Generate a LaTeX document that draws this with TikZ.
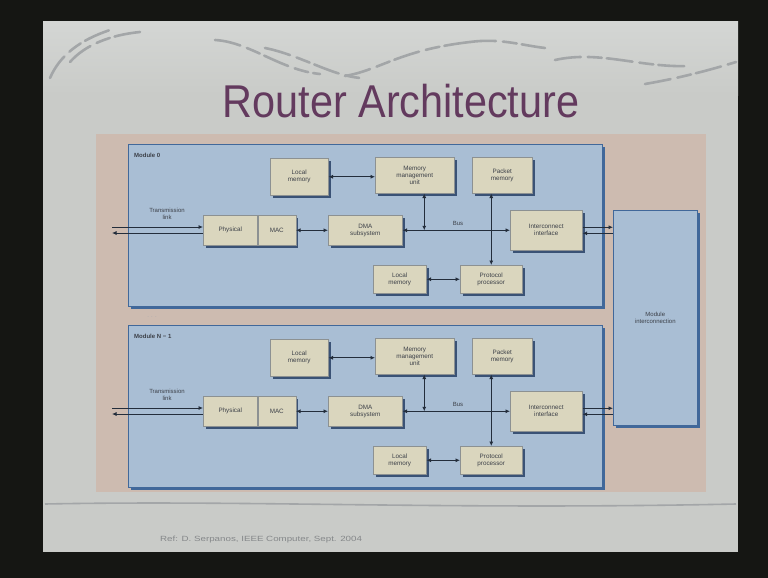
\documentclass[tikz,border=0pt]{standalone}
\usepackage{fontspec}
\setmainfont{Liberation Sans}
\usetikzlibrary{arrows.meta,shadows}

\definecolor{frameblack}{HTML}{151613}
\definecolor{slidegrey}{HTML}{C9CBC8}
\definecolor{bandgrey}{HTML}{D4D6D4}
\definecolor{swirl}{HTML}{A3A6A8}
\definecolor{beige}{HTML}{CDBBB0}
\definecolor{modfill}{HTML}{A9BED4}
\definecolor{modedge}{HTML}{41689A}
\definecolor{blockfill}{HTML}{DAD6BE}
\definecolor{blockedge}{HTML}{8C9192}
\definecolor{blockshade}{HTML}{3A5275}
\definecolor{wire}{HTML}{232D3B}
\definecolor{titlepurple}{HTML}{633A5E}
\definecolor{labelgrey}{HTML}{3C4048}
\definecolor{footergrey}{HTML}{85888A}

\tikzset{
  x=1pt, y=-1pt,
  >={Latex[length=4.5pt,width=4pt]},
  block/.style={draw=blockedge, line width=0.5pt, fill=blockfill, align=center,
    font=\fontsize{6.3}{7}\selectfont, text=labelgrey, inner sep=1pt, anchor=north west,
    drop shadow={shadow xshift=2.5pt, shadow yshift=-2.5pt, fill=blockshade, opacity=1}},
  modframe/.style={draw=modedge, line width=0.6pt, fill=modfill, anchor=north west,
    inner sep=0pt,
    drop shadow={shadow xshift=2.5pt, shadow yshift=-2.5pt, fill=modedge, opacity=1}},
  wire/.style={draw=wire, line width=0.8pt},
  smalltext/.style={font=\fontsize{6}{7.5}\selectfont, text=labelgrey, align=center, inner sep=0pt},
  swirlstroke/.style={draw=swirl, line width=2.6pt, line cap=round,
    dash pattern=on 26pt off 7pt on 14pt off 5pt}
}

% one router module: #1 vertical shift, #2 name prefix, #3 heading
\newcommand\routermodule[3]{%
\begin{scope}[yshift=#1, name prefix=#2-]
  \node[modframe, minimum width=474pt, minimum height=162pt] (frame) at (128,144) {};
  \node[anchor=west, font=\bfseries\fontsize{6}{6}\selectfont, text=labelgrey, inner sep=0pt]
    (head) at (134,155) {#3};

  \node[block, minimum width=58pt, minimum height=37pt] (lmA) at (270,158) {Local\\memory};
  \node[block, minimum width=79pt, minimum height=36pt] (mmu) at (375,157) {Memory\\management\\unit};
  \node[block, minimum width=60pt, minimum height=36pt] (pm) at (472,157) {Packet\\memory};
  \node[block, minimum width=54pt, minimum height=30pt] (phy) at (203,215) {Physical};
  \node[block, minimum width=38pt, minimum height=30pt] (mac) at (phy.north east) {MAC};
  \node[block, minimum width=74pt, minimum height=30pt] (dma) at (328,215) {DMA\\subsystem};
  \node[block, minimum width=72pt, minimum height=40pt] (ii) at (510,210) {Interconnect\\interface};
  \node[block, minimum width=53pt, minimum height=28pt] (lmB) at (373,265) {Local\\memory};
  \node[block, minimum width=62pt, minimum height=28pt] (pp) at (460,265) {Protocol\\processor};

  \coordinate (tlA) at (112,227);
  \coordinate (tlB) at (112,233);
  \node[smalltext] (tl) at (167,214) {Transmission\\link};
  \draw[wire,->] (tlA) -- (tlA -| phy.west);
  \draw[wire,<-] (tlB) -- (tlB -| phy.west);

  \draw[wire,<->] (lmA.east) -- (lmA.east -| mmu.west);
  \draw[wire,<->] (mac.east) -- (dma.west);
  \draw[wire,<->] (dma.east) -- (ii.west);
  \node[smalltext] (bus) at (458,223) {Bus};
  \draw[wire,<->] ([xshift=9.5pt]mmu.south) -- ([xshift=9.5pt]mmu.south |- dma.east);
  \draw[wire,<->] (pp.north |- pm.south) -- (pp.north);
  \draw[wire,<->] (lmB.east) -- (pp.west);
\end{scope}}

\begin{document}
\begin{tikzpicture}
  \useasboundingbox (0,0) rectangle (768,578);
  % projector frame and slide
  \fill[frameblack] (0,0) rectangle (768,578);
  \fill[slidegrey] (43,22) rectangle (738,552);
  \shade[top color=bandgrey, bottom color=slidegrey] (43,22) rectangle (738,95);

  % brushed ornaments along the top of the slide
  \draw[swirlstroke] (50,78) .. controls (60,55) and (80,40) .. (110,30);
  \draw[swirlstroke] (70,62) .. controls (85,45) and (110,35) .. (140,32);
  \draw[swirlstroke] (215,40) .. controls (250,42) and (280,70) .. (320,74);
  \draw[swirlstroke] (265,48) .. controls (300,55) and (330,75) .. (360,78);
  \draw[swirlstroke] (345,76) .. controls (380,70) and (400,50) .. (470,42);
  \draw[swirlstroke] (470,42) .. controls (500,38) and (520,45) .. (545,48);
  \draw[swirlstroke] (555,60) .. controls (600,50) and (640,68) .. (690,66);
  \draw[swirlstroke] (645,84) .. controls (680,78) and (710,70) .. (736,62);

  % title
  \node[anchor=base, text=titlepurple, inner sep=0pt] (title) at (401,117)
    {\scalebox{0.9}[1]{\fontsize{46}{50}\selectfont Router Architecture}};

  % diagram backdrop
  \fill[beige] (96,134) rectangle (706,492);

  % shared interconnection block
  \node[modframe, minimum width=84pt, minimum height=215pt] (mi) at (613,210) {};
  \node[smalltext] (milabel) at (mi.center) {Module\\interconnection};

  \routermodule{0pt}{m0}{Module 0}
  \node[font=\fontsize{6}{6}\selectfont, text=labelgrey!45, inner sep=0pt] (gap) at (152,317) {. . .};
  \routermodule{-181pt}{m1}{Module N − 1}

  % links from each module to the interconnection block
  \draw[wire,->] ([yshift=3pt]m0-ii.east) -- ([yshift=3pt]m0-ii.east -| mi.west);
  \draw[wire,<-] ([yshift=-3pt]m0-ii.east) -- ([yshift=-3pt]m0-ii.east -| mi.west);
  \draw[wire,->] ([yshift=3pt]m1-ii.east) -- ([yshift=3pt]m1-ii.east -| mi.west);
  \draw[wire,<-] ([yshift=-3pt]m1-ii.east) -- ([yshift=-3pt]m1-ii.east -| mi.west);

  % lower rule and reference line
  \draw[swirl, line width=1.6pt] (45,504) .. controls (250,500) and (450,510) .. (736,504);
  \node[anchor=base west, text=footergrey, inner sep=0pt] (ref) at (160,541)
    {\scalebox{1.3}[1]{\fontsize{7.5}{9}\selectfont Ref: D. Serpanos, IEEE Computer, Sept. 2004}};
\end{tikzpicture}
\end{document}
